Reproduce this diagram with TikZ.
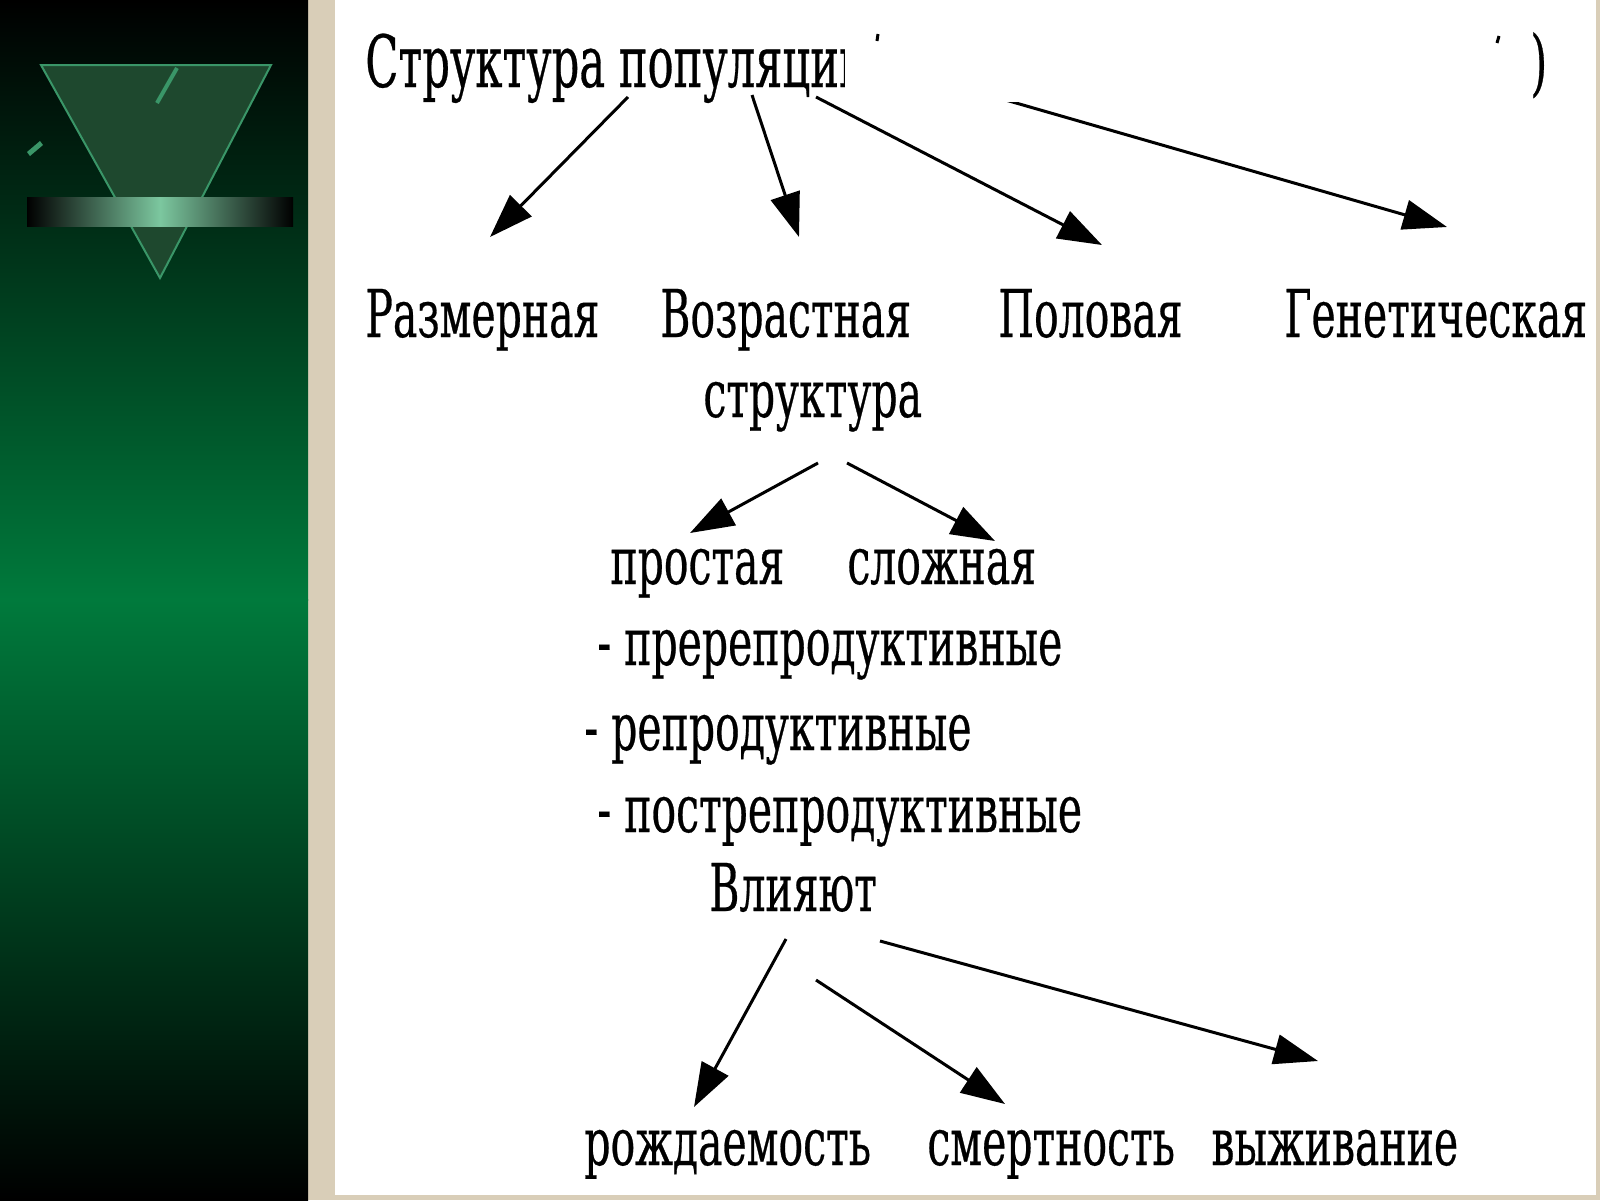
\documentclass[tikz,border=0pt]{standalone}
\usepackage{fontspec}
\usepackage{tikz}
\usetikzlibrary{arrows.meta, shapes, positioning}
\newfontfamily\rusfont[FakeStretch=0.62, FakeBold=0.4]{DejaVu Serif}
\newfontfamily\titfont[FakeStretch=0.60, FakeBold=0.4]{DejaVu Serif}
\definecolor{zelen}{RGB}{0,122,60}
\definecolor{bezh}{RGB}{217,206,184}
\definecolor{mramor}{RGB}{30,72,46}
\definecolor{kant}{RGB}{58,150,104}
\definecolor{svet}{RGB}{124,199,159}
\tikzstyle{nadpis} = [inner sep=0pt, anchor=base west, font=\rusfont\fontsize{33}{40}\selectfont]
\tikzstyle{zagolovok} = [inner sep=0pt, anchor=base west, font=\titfont\fontsize{36}{42}\selectfont]
\tikzstyle{strelka} = [line width=1.5pt, -{Triangle[length=22pt, width=15pt]}]

\begin{document}
\begin{tikzpicture}[x=0.5pt, y=-0.5pt]
	\useasboundingbox (0,0) rectangle (1600,1200);
	% fondo
	\fill[bezh] (0,0) rectangle (1600,1200);
	\fill[white] (335,0) rectangle (1596,1195);
	\shade[top color=black, bottom color=zelen] (0,0) rectangle (308,600);
	\shade[top color=zelen, bottom color=black] (0,599) rectangle (308,1200);
	% triangulo y barra
	\fill[mramor, draw=kant, line width=1pt] (41,65) -- (271,65) -- (160,278) -- cycle;
	\draw[kant, line width=2pt] (177,68) -- (157,103);
	\fill[kant] (27,152) -- (40,141) -- (43,145) -- (30,156) -- cycle;
	\shade[left color=black, right color=black, middle color=svet] (27,197) rectangle (293,226);

	% textos
	\node[zagolovok] (titulo) at (365,87) {Структура популяции};
	\node[nadpis] (razm) at (365,337) {Размерная};
	\node[nadpis] (vozr) at (660,337) {Возрастная};
	\node[nadpis] (vozr2) at (703,417) {структура};
	\node[nadpis] (pol) at (998,337) {Половая};
	\node[nadpis] (gen) at (1284,337) {Генетическая};
	\node[nadpis] (prost) at (610,584) {простая};
	\node[nadpis] (slozh) at (847,584) {сложная};
	\node[nadpis] (pre) at (597,665) {- пререпродуктивные};
	\node[nadpis] (rep) at (584,750) {- репродуктивные};
	\node[nadpis] (post) at (597,832) {- пострепродуктивные};
	\node[nadpis] (vliy) at (709,911) {Влияют};
	\node[nadpis] (rozh) at (584,1165) {рождаемость};
	\node[nadpis] (smert) at (927,1165) {смертность};
	\node[nadpis] (vyzh) at (1211,1165) {выживание};

	% flechas
	\draw[strelka] ([shift={(263,10)}]titulo.base west) -- ([shift={(125,-100)}]razm.base west);
	\draw[strelka] ([shift={(387,8)}]titulo.base west) -- ([shift={(139,-100)}]vozr.base west);
	\draw[strelka] ([shift={(451,10)}]titulo.base west) -- ([shift={(104,-92)}]pol.base west);
	\draw[strelka] ([shift={(512,-24)}]titulo.base west) -- ([shift={(163,-110)}]gen.base west);
	\draw[strelka] ([shift={(115,46)}]vozr2.base west) -- ([shift={(80,-51)}]prost.base west);
	\draw[strelka] ([shift={(144,46)}]vozr2.base west) -- ([shift={(148,-43)}]slozh.base west);
	\draw[strelka] ([shift={(77,28)}]vliy.base west) -- ([shift={(110,-58)}]rozh.base west);
	\draw[strelka] ([shift={(107,69)}]vliy.base west) -- ([shift={(78,-61)}]smert.base west);
	\draw[strelka] ([shift={(171,30)}]vliy.base west) -- ([shift={(107,-104)}]vyzh.base west);

	% tapado
	\fill[white] (845,15) rectangle (1522,102);
	\draw[line width=1.5pt] (878,34) -- (877,41);
	\draw[line width=1.5pt] (1499,36) -- (1497,43);
	\node[zagolovok] (skobka) at (1530,87) {)};
\end{tikzpicture}
\end{document}
